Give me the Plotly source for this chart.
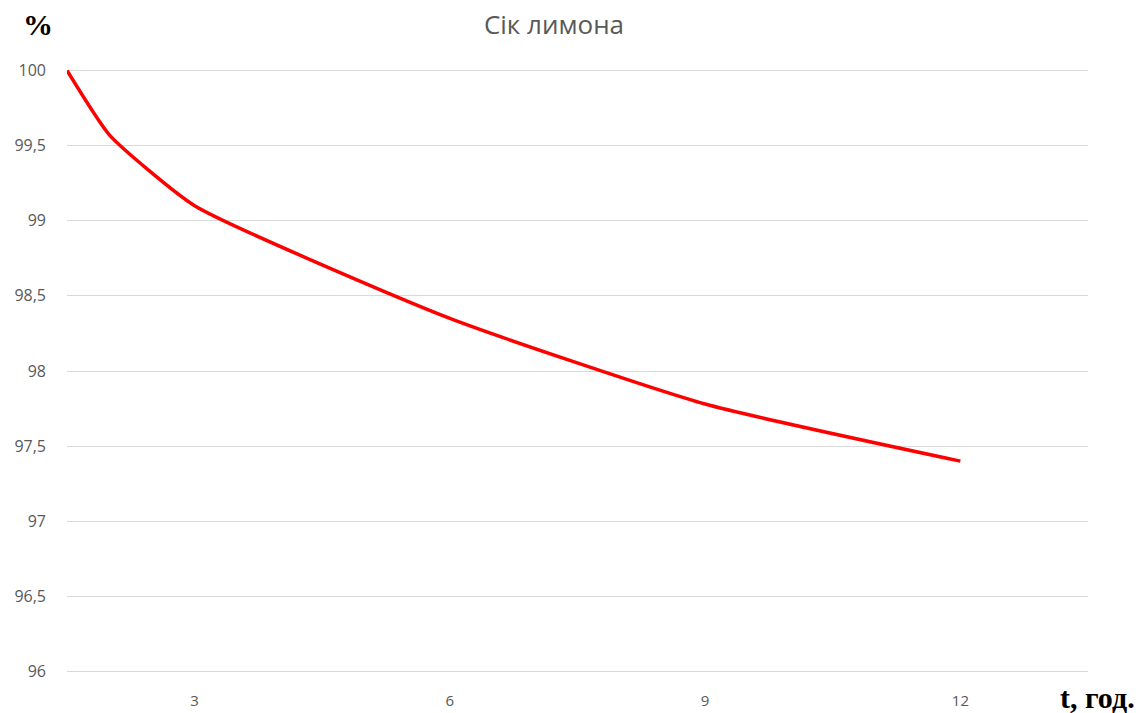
import plotly.graph_objects as go

# Lemon juice: share remaining (%) over time (hours)
hours = [1.5, 2, 3, 6, 9, 12]
percent = [100, 99.57, 99.1, 98.35, 97.78, 97.4]

y_ticks = [96, 96.5, 97, 97.5, 98, 98.5, 99, 99.5, 100]
y_tick_labels = ["96", "96,5", "97", "97,5", "98", "98,5", "99", "99,5", "100"]
x_ticks = [3, 6, 9, 12]
x_tick_labels = ["3", "6", "9", "12"]

W, H = 1146, 713
L, R, T, B = 67, 58, 68.5, 39.5

fig = go.Figure()
fig.add_trace(go.Scatter(
    x=hours, y=percent, mode="lines",
    line=dict(color="#FF0000", width=3.5, shape="spline", smoothing=0.5),
    showlegend=False, hoverinfo="x+y",
))

grey = "#595959"
fig.update_layout(
    width=W, height=H,
    margin=dict(l=L, r=R, t=T, b=B, autoexpand=False),
    paper_bgcolor="white", plot_bgcolor="white",
    font=dict(family="Open Sans, Noto Sans, sans-serif", color=grey, size=15),
    title=dict(text="Сік лимона", x=554 / W, xanchor="center",
               y=1 - 25 / H, yanchor="middle",
               font=dict(size=26, color=grey)),
    xaxis=dict(range=[1.5, 13.5], tickvals=x_ticks, ticktext=x_tick_labels,
               showgrid=False, zeroline=False, showline=False, automargin=False,
               ticks="", ticklabelstandoff=17, tickfont=dict(size=15, color=grey)),
    yaxis=dict(range=[95.99, 100.01], tickvals=y_ticks, ticktext=y_tick_labels,
               showgrid=True, gridcolor="#D9D9D9", gridwidth=1, automargin=False,
               zeroline=False, showline=False, ticks="",
               ticklabelstandoff=20, tickfont=dict(size=16, color=grey)),
)

# axis-name labels positioned in pixels, converted to paper coordinates
plot_w = W - L - R
plot_h = H - T - B


def px_to_paper(px, py):
    return (px - L) / plot_w, (H - B - py) / plot_h


ax, ay = px_to_paper(38, 24)
bx, by = px_to_paper(1097, 698)
fig.update_layout(annotations=[
    dict(text="<b>%</b>", xref="paper", yref="paper", x=ax, y=ay,
         xanchor="center", yanchor="middle", showarrow=False,
         font=dict(family="Liberation Serif, serif", size=30, color="black")),
    dict(text="<b>t, год.</b>", xref="paper", yref="paper", x=bx, y=by,
         xanchor="center", yanchor="middle", showarrow=False,
         font=dict(family="Liberation Serif, serif", size=30, color="black")),
])

fig.write_html("out.html")
